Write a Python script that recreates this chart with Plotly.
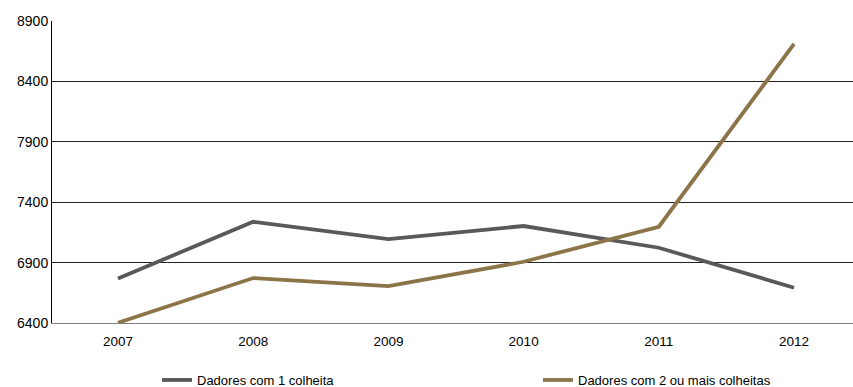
import plotly.graph_objects as go

years = ["2007", "2008", "2009", "2010", "2011", "2012"]
one_harvest = [6768, 7238, 7095, 7203, 7023, 6692]
two_plus_harvest = [6402, 6772, 6706, 6907, 7197, 8710]
y_ticks = [6400, 6900, 7400, 7900, 8400, 8900]

fig = go.Figure()
fig.add_trace(go.Scatter(x=years, y=one_harvest, mode="lines", name="Dadores com 1 colheita",
                         line=dict(color="#595959", width=3.8)))
fig.add_trace(go.Scatter(x=years, y=two_plus_harvest, mode="lines", name="Dadores com 2 ou mais colheitas",
                         line=dict(color="#8C7449", width=3.8)))

fig.update_layout(
    width=853, height=387,
    margin=dict(l=52, r=0, t=21, b=64, autoexpand=False),
    paper_bgcolor="white", plot_bgcolor="white",
    font=dict(family="Liberation Sans, Arial, sans-serif", size=13.5, color="#000000"),
    legend=dict(orientation="h", xref="container", yref="container",
                x=157 / 853, xanchor="left", y=1 - 380 / 387, yanchor="middle",
                entrywidth=336, entrywidthmode="pixels", font=dict(size=13),
                itemwidth=30),
    showlegend=True,
)
fig.update_xaxes(type="category", range=[-0.488, 5.436], showgrid=False,
                 showline=True, linecolor="#808080", linewidth=1, ticks="",
                 ticklabelstandoff=6, tickfont=dict(size=13.5))
fig.update_yaxes(range=[6400, 8900], tickvals=y_ticks, showgrid=True, gridcolor="#222222",
                 gridwidth=1, showline=True, linecolor="#000000", linewidth=1,
                 ticks="", zeroline=False, tickfont=dict(size=14))

fig.write_html("out.html")
